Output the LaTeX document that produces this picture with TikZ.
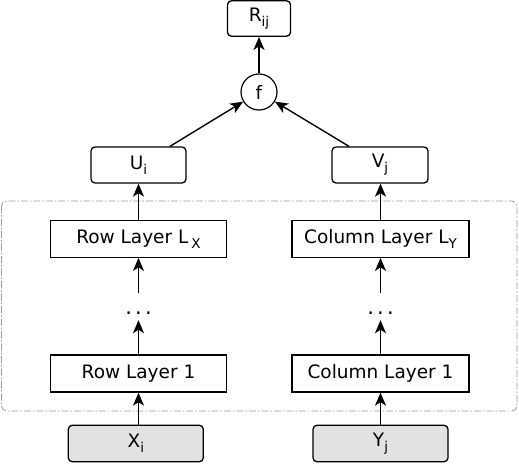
\documentclass[tikz,border=0pt]{standalone}
\usepackage{fontspec}
\setmainfont{DejaVu Sans}
\usetikzlibrary{arrows.meta,calc}
\definecolor{inputgray}{HTML}{E2E2E2}
\definecolor{framegray}{HTML}{9A9A9A}
\tikzset{
  box/.style={draw=black,line width=1.3pt,inner sep=0pt,align=center},
  rbox/.style={box,rounded corners=4pt},
  inbox/.style={rbox,fill=inputgray},
  fnode/.style={draw=black,line width=1.2pt,circle,inner sep=0pt,minimum size=36pt},
  arr/.style={line width=1.4pt,-{Stealth[length=13pt,width=11pt,inset=3.5pt]}},
  frame/.style={draw=framegray,line width=0.8pt,dash pattern=on 7pt off 2pt on 1.5pt off 2pt,rounded corners=5pt},
  dotsnode/.style={inner sep=0pt,minimum height=27pt,minimum width=22pt}
}
\newcommand{\sbs}[1]{\raisebox{-5pt}{\fontsize{13.5}{14}\selectfont #1}}
\newcommand{\vdotsrow}{\raisebox{-8pt}[0pt][0pt]{\fontsize{21}{22}\selectfont .\hspace{3.2pt}.\hspace{3.2pt}.}}
\begin{document}
\begin{tikzpicture}[x=1pt,y=-1pt,font=\fontsize{18.5}{22}\selectfont]
\useasboundingbox (0,0) rectangle (519,463);
% frame
\draw[frame] (1.5,201) rectangle (517,411);
% nodes
\node[rbox,minimum width=63pt,minimum height=35.5pt] (R) at (259,18.5) {R\sbs{ij}};
\node[fnode] (f) at (259,92) {f};
\node[rbox,minimum width=95pt,minimum height=36pt] (U) at (138.5,165) {U\sbs{i}};
\node[rbox,minimum width=96pt,minimum height=36pt] (V) at (380,165) {V\sbs{j}};
\node[box,minimum width=176pt,minimum height=36.5pt] (LX) at (138.5,239) {Row Layer L\,\sbs{X}};
\node[box,minimum width=177pt,minimum height=36.5pt] (LY) at (380.5,239) {Column Layer L\sbs{Y}};
\node[dotsnode] (DL) at (138.5,306.5) {\vdotsrow};
\node[dotsnode] (DR) at (380.5,306.5) {\vdotsrow};
\node[box,minimum width=176pt,minimum height=37pt] (L1) at (138.5,373.5) {Row Layer 1};
\node[box,minimum width=177pt,minimum height=37pt] (C1) at (380.5,373.5) {Column Layer 1};
\node[inbox,minimum width=135pt,minimum height=36.5pt] (X) at (135.8,443.5) {X\sbs{i}};
\node[inbox,minimum width=135pt,minimum height=36.5pt] (Y) at (380.5,443.5) {Y\sbs{j}};
% connectors
\draw[arr] (X.north -| L1.south) -- (L1.south);
\draw[arr] (Y.north -| C1.south) -- (C1.south);
\draw[arr] (L1.north) -- (DL.south);
\draw[arr] (C1.north) -- (DR.south);
\draw[arr] (DL.north) -- (LX.south);
\draw[arr] (DR.north) -- (LY.south);
\draw[arr] (LX.north) -- (U.south);
\draw[arr] (LY.north) -- (V.south -| LY.north);
\draw[arr] ([xshift=31.5pt]U.north) -- (f);
\draw[arr] ([xshift=-31pt]V.north) -- (f);
\draw[arr] (f.north) -- (R.south);
\end{tikzpicture}
\end{document}
